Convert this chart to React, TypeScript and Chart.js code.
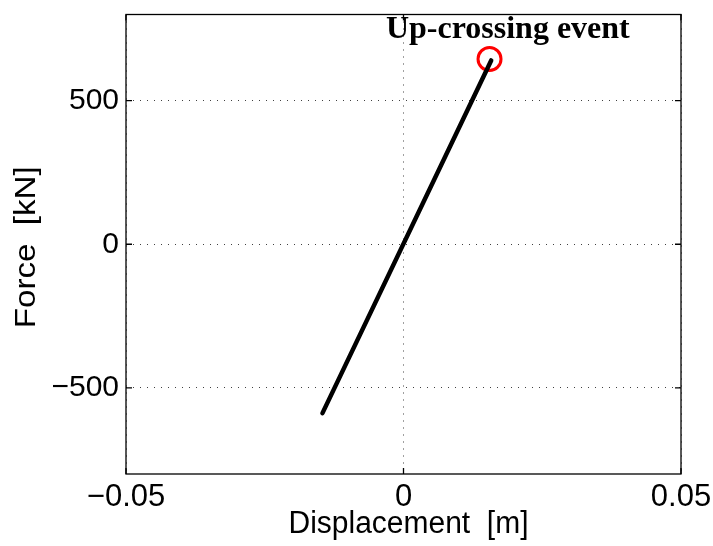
import React, { useEffect, useRef } from "react";
import { Chart, registerables } from "chart.js";

Chart.register(...registerables);

// ---- data ----
const DISP = [-0.0146, 0.0158];
const FORCE = [-588, 640];
const EVENT_X = [0.0155];
const EVENT_Y = [645];
const X_TICKS = [-0.05, 0, 0.05];
const X_LABELS = ["\u22120.05", "0", "0.05"];
const Y_TICKS = [-500, 0, 500];
const Y_LABELS = ["\u2212500", "0", "500"];
const X_RANGE = [-0.05, 0.05];
const Y_RANGE = [-800, 800];
const X_TITLE = "Displacement  [m]";
const Y_TITLE = "Force  [kN]";
const ANNOT_TEXT = "Up-crossing event";
const ANNOT_X = [0.0188];
const ANNOT_Y = [717];

const SANS = "'Liberation Sans', Arial, Helvetica, sans-serif";
const SERIF = "'Liberation Serif', 'Times New Roman', serif";

const decorPlugin = {
  id: "decor",
  afterDatasetsDraw(chart: any) {
    const { ctx, chartArea, scales } = chart;
    const { left, right, top, bottom } = chartArea;
    const xs = scales.x;
    const ys = scales.y;
    ctx.save();
    // box
    ctx.strokeStyle = "#000";
    ctx.lineWidth = 1.3;
    ctx.setLineDash([]);
    ctx.strokeRect(left, top, right - left, bottom - top);
    // inside tick marks
    const tl = 6;
    ctx.beginPath();
    X_TICKS.forEach((v) => {
      const px = xs.getPixelForValue(v);
      ctx.moveTo(px, bottom);
      ctx.lineTo(px, bottom - tl);
      ctx.moveTo(px, top);
      ctx.lineTo(px, top + tl);
    });
    Y_TICKS.forEach((v) => {
      const py = ys.getPixelForValue(v);
      ctx.moveTo(left, py);
      ctx.lineTo(left + tl, py);
      ctx.moveTo(right, py);
      ctx.lineTo(right - tl, py);
    });
    ctx.stroke();

    // annotation
    ctx.fillStyle = "#000";
    ctx.font = `bold 32px ${SERIF}`;
    ctx.textAlign = "center";
    ctx.textBaseline = "alphabetic";
    ctx.fillText(ANNOT_TEXT, xs.getPixelForValue(ANNOT_X[0]), ys.getPixelForValue(ANNOT_Y[0]));

    // x title
    ctx.font = `31px ${SANS}`;
    const xw = ctx.measureText(X_TITLE).width;
    const sx = 240 / xw;
    ctx.save();
    ctx.translate((left + right) / 2 + 5, 533);
    ctx.scale(sx, 1);
    ctx.textAlign = "center";
    ctx.fillText(X_TITLE, 0, 0);
    ctx.restore();

    // y title
    ctx.font = `30px ${SANS}`;
    const yw = ctx.measureText(Y_TITLE).width;
    const sy = 162 / yw;
    ctx.save();
    ctx.translate(35, (top + bottom) / 2 + 3);
    ctx.rotate(-Math.PI / 2);
    ctx.scale(sy, 1);
    ctx.textAlign = "center";
    ctx.fillText(Y_TITLE, 0, 0);
    ctx.restore();

    ctx.restore();
  },
};

export default function App() {
  const ref = useRef<HTMLCanvasElement>(null);

  useEffect(() => {
    if (!ref.current) return;
    const lineData = DISP.map((x, i) => ({ x, y: FORCE[i] }));
    const eventData = EVENT_X.map((x, i) => ({ x, y: EVENT_Y[i] }));
    const chart = new Chart(ref.current, {
      type: "scatter",
      data: {
        datasets: [
          {
            data: lineData,
            showLine: true,
            borderColor: "#000",
            backgroundColor: "#000",
            borderWidth: 4.5,
            borderCapStyle: "round",
            pointRadius: 0,
            pointHoverRadius: 0,
          } as any,
          {
            data: eventData,
            showLine: false,
            pointRadius: 11.5,
            pointHoverRadius: 11.5,
            pointBorderWidth: 3,
            borderColor: "#ff0000",
            pointBorderColor: "#ff0000",
            backgroundColor: "rgba(0,0,0,0)",
            pointBackgroundColor: "rgba(0,0,0,0)",
          } as any,
        ],
      },
      options: {
        animation: false,
        responsive: false,
        maintainAspectRatio: false,
        layout: { padding: { top: 12, right: 32, left: 0, bottom: 0 } },
        plugins: {
          legend: { display: false },
          tooltip: { enabled: false },
        },
        scales: {
          x: {
            type: "linear",
            min: X_RANGE[0],
            max: X_RANGE[1],
            afterBuildTicks: (s: any) => {
              s.ticks = X_TICKS.map((v) => ({ value: v }));
            },
            afterFit: (s: any) => {
              s.height = 72;
              s.paddingLeft = 0;
              s.paddingRight = 0;
            },
            ticks: {
              padding: 5,
              color: "#000",
              font: { family: SANS, size: 31 },
              maxRotation: 0,
              autoSkip: false,
              callback: (v: any) => {
                const i = X_TICKS.findIndex((t) => Math.abs(t - Number(v)) < 1e-9);
                return i >= 0 ? X_LABELS[i] : "";
              },
            },
            grid: {
              color: "rgba(0,0,0,0.75)",
              lineWidth: 1,
              drawTicks: false,
            },
            border: { display: false, dash: [1, 6] },
            title: { display: false },
          },
          y: {
            type: "linear",
            min: Y_RANGE[0],
            max: Y_RANGE[1],
            afterBuildTicks: (s: any) => {
              s.ticks = Y_TICKS.map((v) => ({ value: v }));
            },
            afterFit: (s: any) => {
              s.width = 126;
              s.paddingTop = 0;
              s.paddingBottom = 0;
            },
            ticks: {
              padding: 7,
              color: "#000",
              font: { family: SANS, size: 30 },
              autoSkip: false,
              callback: (v: any) => {
                const i = Y_TICKS.findIndex((t) => Math.abs(t - Number(v)) < 1e-9);
                return i >= 0 ? Y_LABELS[i] : "";
              },
            },
            grid: {
              color: "rgba(0,0,0,0.75)",
              lineWidth: 1,
              drawTicks: false,
            },
            border: { display: false, dash: [1, 6] },
            title: { display: false },
          },
        },
      } as any,
      plugins: [decorPlugin],
    });
    return () => chart.destroy();
  }, []);

  return (
    <div style={{ position: "absolute", left: 0, top: 0, width: 713, height: 546, background: "#fff" }}>
      <canvas ref={ref} width={713} height={546} style={{ display: "block" }} />
    </div>
  );
}
